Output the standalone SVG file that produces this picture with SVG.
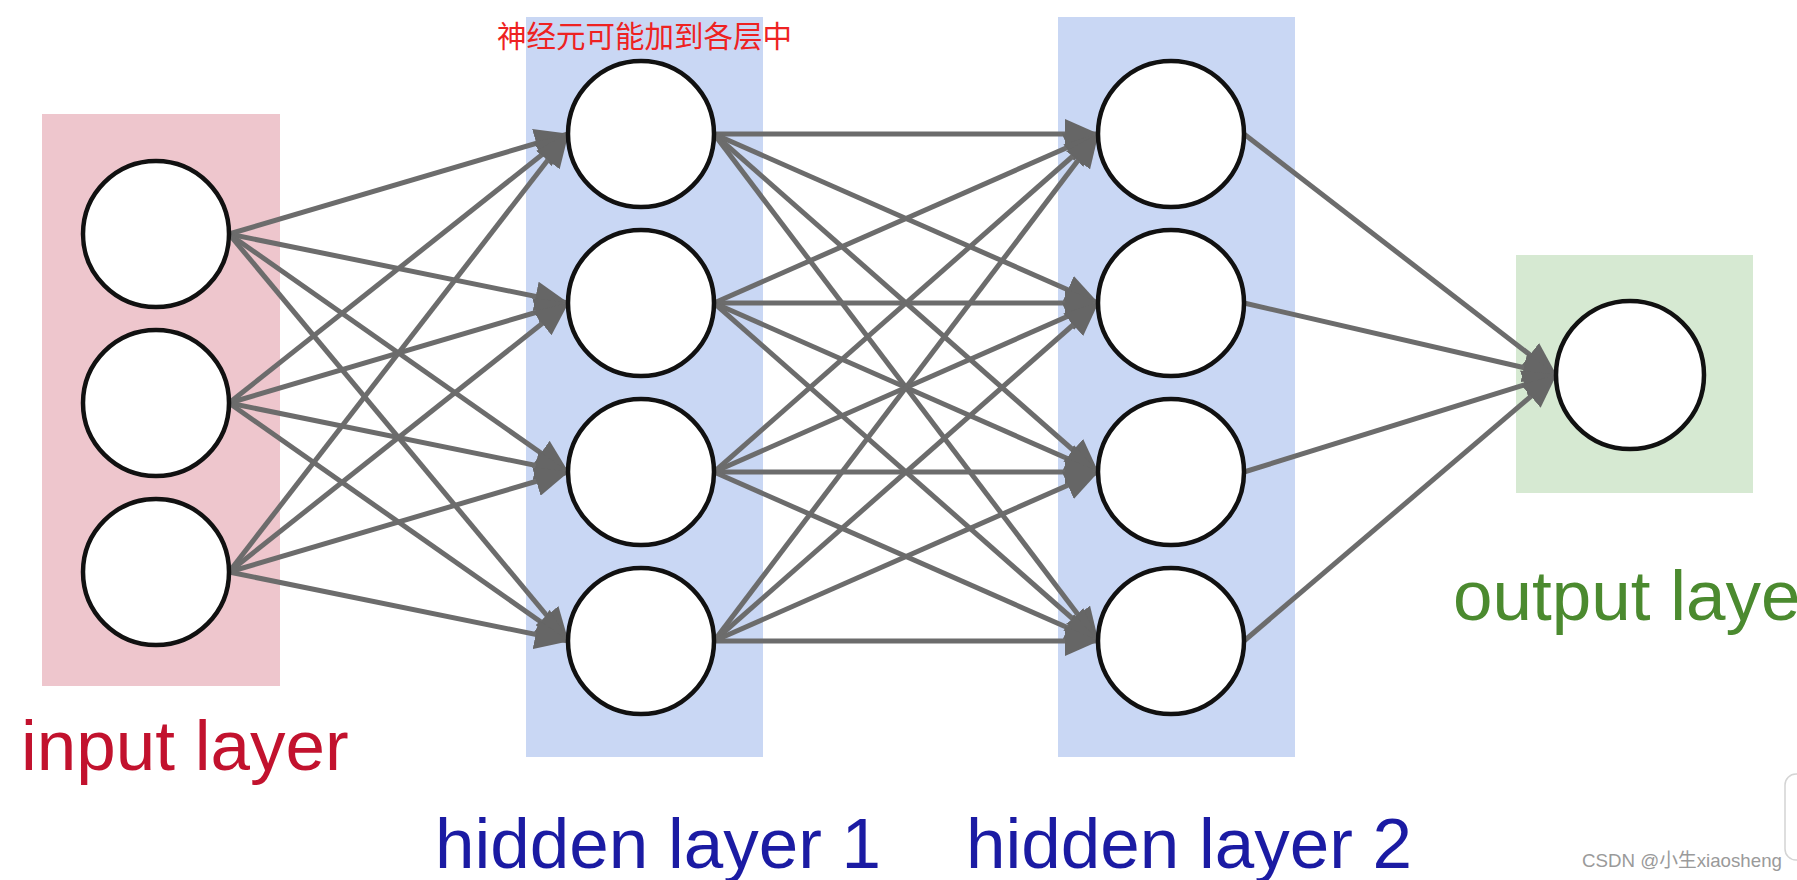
<svg xmlns="http://www.w3.org/2000/svg" width="1797" height="880" viewBox="0 0 1797 880">
<style>
.bg{fill:#ffffff}
.node circle{fill:#ffffff;stroke:#111111;stroke-width:4.5}
.edges line{stroke:#6c6c6c;stroke-width:5;marker-end:url(#arr)}
.lbl{font-family:"Liberation Sans",Arial,sans-serif;font-size:71px}
</style>
<defs>
<marker id="arr" markerUnits="userSpaceOnUse" viewBox="0 0 34 30" markerWidth="34" markerHeight="30" refX="33" refY="15" orient="auto">
<path d="M0,0 L34,15 L0,30 Z" fill="#666666"/>
</marker>
</defs>
<rect class="bg" x="0" y="0" width="1797" height="880"/>
<g id="layers">
<rect id="input-band" x="42" y="114" width="238" height="572" fill="#eec6cd"/>
<rect id="hidden1-band" x="526" y="17" width="237" height="740" fill="#c9d7f4"/>
<rect id="hidden2-band" x="1058" y="17" width="237" height="740" fill="#c9d7f4"/>
<rect id="output-band" x="1516" y="255" width="237" height="238" fill="#d6e9d2"/>
</g>
<g id="connectors" class="edges">
<line x1="229" y1="234" x2="568" y2="134"/>
<line x1="229" y1="234" x2="568" y2="303"/>
<line x1="229" y1="234" x2="568" y2="472"/>
<line x1="229" y1="234" x2="568" y2="641"/>
<line x1="229" y1="403" x2="568" y2="134"/>
<line x1="229" y1="403" x2="568" y2="303"/>
<line x1="229" y1="403" x2="568" y2="472"/>
<line x1="229" y1="403" x2="568" y2="641"/>
<line x1="229" y1="572" x2="568" y2="134"/>
<line x1="229" y1="572" x2="568" y2="303"/>
<line x1="229" y1="572" x2="568" y2="472"/>
<line x1="229" y1="572" x2="568" y2="641"/>
<line x1="714" y1="134" x2="1098" y2="134"/>
<line x1="714" y1="134" x2="1098" y2="303"/>
<line x1="714" y1="134" x2="1098" y2="472"/>
<line x1="714" y1="134" x2="1098" y2="641"/>
<line x1="714" y1="303" x2="1098" y2="134"/>
<line x1="714" y1="303" x2="1098" y2="303"/>
<line x1="714" y1="303" x2="1098" y2="472"/>
<line x1="714" y1="303" x2="1098" y2="641"/>
<line x1="714" y1="472" x2="1098" y2="134"/>
<line x1="714" y1="472" x2="1098" y2="303"/>
<line x1="714" y1="472" x2="1098" y2="472"/>
<line x1="714" y1="472" x2="1098" y2="641"/>
<line x1="714" y1="641" x2="1098" y2="134"/>
<line x1="714" y1="641" x2="1098" y2="303"/>
<line x1="714" y1="641" x2="1098" y2="472"/>
<line x1="714" y1="641" x2="1098" y2="641"/>
<line x1="1244" y1="134" x2="1556" y2="375"/>
<line x1="1244" y1="303" x2="1556" y2="375"/>
<line x1="1244" y1="472" x2="1556" y2="375"/>
<line x1="1244" y1="641" x2="1556" y2="375"/>
</g>
<g id="in1" class="node"><circle cx="156" cy="234" r="73"/></g>
<g id="in2" class="node"><circle cx="156" cy="403" r="73"/></g>
<g id="in3" class="node"><circle cx="156" cy="572" r="73"/></g>
<g id="h1a" class="node"><circle cx="641" cy="134" r="73"/></g>
<g id="h1b" class="node"><circle cx="641" cy="303" r="73"/></g>
<g id="h1c" class="node"><circle cx="641" cy="472" r="73"/></g>
<g id="h1d" class="node"><circle cx="641" cy="641" r="73"/></g>
<g id="h2a" class="node"><circle cx="1171" cy="134" r="73"/></g>
<g id="h2b" class="node"><circle cx="1171" cy="303" r="73"/></g>
<g id="h2c" class="node"><circle cx="1171" cy="472" r="73"/></g>
<g id="h2d" class="node"><circle cx="1171" cy="641" r="73"/></g>
<g id="out1" class="node"><circle cx="1630" cy="375" r="74"/></g>
<g id="labels">
<text class="lbl" x="21" y="770" fill="#c2122e">input layer</text>
<text class="lbl" x="435" y="868" fill="#1b1ba3">hidden layer 1</text>
<text class="lbl" x="966" y="868" fill="#1b1ba3">hidden layer 2</text>
<text class="lbl" x="1453" y="620" fill="#4b8a2f">output layer</text>
<text x="497" y="47" font-family="'Noto Sans CJK SC',sans-serif" font-size="29.5" fill="#ee2222">神经元可能加到各层中</text>
</g>
<g id="watermark">
<rect x="1785" y="774" width="40" height="86" rx="11" fill="#ffffff" stroke="#d4d4d4" stroke-width="1.5"/>
<text x="1582" y="867" font-family="'Liberation Sans','Noto Sans CJK SC',sans-serif" font-size="19" fill="#9a9a9a" textLength="200" lengthAdjust="spacingAndGlyphs">CSDN @小生xiaosheng</text>
</g>
</svg>
